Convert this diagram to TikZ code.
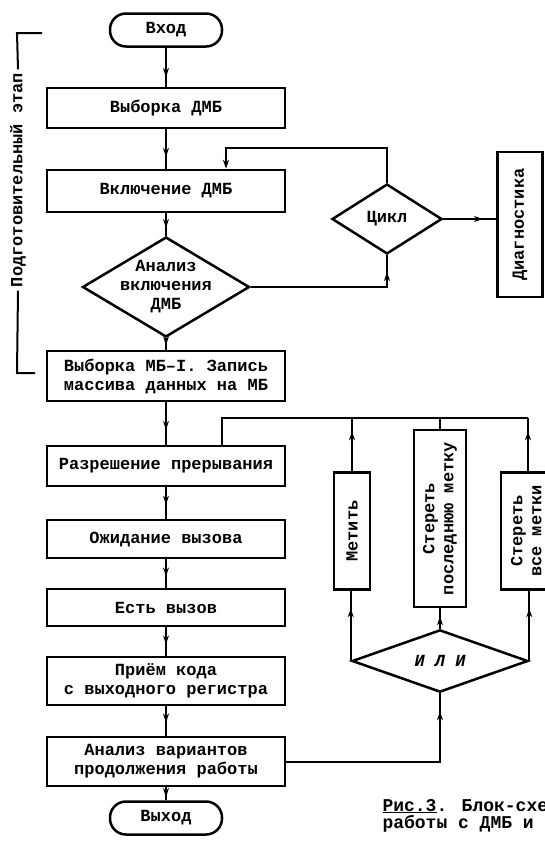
\documentclass[tikz,border=0pt]{standalone}
\usepackage{fontspec}
\setmainfont{Liberation Mono}
\usepackage{graphicx}
\usetikzlibrary{arrows.meta}
\usetikzlibrary{calc}
\usetikzlibrary{decorations.markings}
\usetikzlibrary{shapes.geometric}
\usetikzlibrary{positioning}
\newcommand{\boxfont}{\fontsize{17}{19}\selectfont\bfseries}
\tikzstyle{block} = [draw, line width=2.5pt, rectangle, minimum width=238pt, inner sep=2pt, align=center, font=\boxfont]
\tikzstyle{vblock} = [draw, line width=2.5pt, rectangle, inner sep=0pt, align=center, font=\boxfont]
\tikzstyle{term} = [draw, line width=2.5pt, rectangle, rounded corners=16pt, minimum width=112pt, minimum height=33pt, font=\boxfont]
\tikzstyle{decision} = [draw, line width=2.5pt, diamond, inner sep=0pt, font=\boxfont]
\tikzstyle{line} = [line width=2pt]
\tikzset{flow/.style={line width=2pt,
    decoration={markings, mark=at position #1 with {\arrow{Stealth[length=9pt,width=6pt]}}},
    postaction={decorate}},
  flow/.default=0.6}

\begin{document}
\begin{tikzpicture}[x=1pt, y=-1pt]

    \useasboundingbox (0,0) rectangle (545,849);
    \clip (0,0) rectangle (545,849); % the page is cut at the right edge

    % main column
    \node[term] (start) at (166,30) {Вход};
    \node[block, minimum height=40pt] (selDMB) at (166,108) {Выборка ДМБ};
    \node[block, minimum height=42pt] (onDMB) at (166,191) {Включение ДМБ};
    \node[decision, minimum width=167pt, minimum height=100pt] (chkDMB) at (166,287) {};
    \node[font=\boxfont, align=center] at (chkDMB) {Анализ\\включения\\ДМБ};
    \node[block, minimum height=50pt] (selMB) at (166,376) {Выборка МБ–I. Запись\\массива данных на МБ};
    \node[block, minimum height=40pt] (irqEn) at (166,466) {Разрешение прерывания};
    \node[block, minimum height=38pt] (waitCall) at (166,539) {Ожидание вызова};
    \node[block, minimum height=37pt] (gotCall) at (166,607.5) {Есть вызов};
    \node[block, minimum height=48pt] (getCode) at (166,681) {Приём кода\\с выходного регистра};
    \node[block, minimum height=49pt] (chkVar) at (166,761.5) {Анализ вариантов\\продолжения работы};
    \node[term] (stop) at (166,818) {Выход};

    % loop and diagnostics
    \node[decision, minimum width=110pt, minimum height=70pt] (loopD) at (387,219) {Цикл};
    \node[vblock, minimum width=45pt, minimum height=145pt] (diag) at (520,224.5)
        {\rotatebox{90}{Диагностика}};
    \coordinate (loopTL) at (226,148);

    % user choices
    \node[decision, minimum width=176pt, minimum height=58pt, font=\boxfont\itshape] (orD) at (440,661) {И Л И};
    \node[vblock, minimum width=36pt, minimum height=117pt] (markB) at (352,531)
        {\rotatebox{90}{Метить}};
    \node[vblock, minimum width=52pt, minimum height=177pt] (eraseLast) at (440,518.5)
        {\rotatebox{90}{\begin{tabular}{@{}c@{}}Стереть\\последнюю метку\end{tabular}}};
    \node[vblock, minimum width=54pt, minimum height=117pt] (eraseAll) at (528,531)
        {\rotatebox{90}{\begin{tabular}{@{}c@{}}Стереть\\все метки\end{tabular}}};
    \coordinate (topL) at (222,418);

    % stage bracket
    \node[font=\boxfont, rotate=90] (stage) at (18,180) {Подготовительный этап};
    \draw[line] (42,33) -- (17,33) -- (stage.east);
    \draw[line] (stage.west) -- (17,373) -- (35,373);

    % connectors
    \draw[flow=0.75] (start) -- (selDMB);
    \draw[flow=0.7] (selDMB) -- (onDMB);
    \draw[flow=0.65] (onDMB) -- (chkDMB);
    \draw[flow=0.6] (chkDMB) -- (selMB);
    \draw[flow=0.65] (selMB) -- (irqEn);
    \draw[flow=0.55] (irqEn) -- (waitCall);
    \draw[flow] (waitCall) -- (gotCall);
    \draw[flow] (gotCall) -- (getCode);
    \draw[flow=0.55] (getCode) -- (chkVar);
    \draw[flow=0.75] (chkVar) -- (stop);

    \draw[flow=0.9] (chkDMB.east) -| (loopD.south);
    \draw[line, -{Stealth[length=9pt,width=6pt]}] (loopD.north) |- (loopTL) -- (loopTL |- onDMB.north);
    \draw[flow=0.75] (loopD.east) -- (loopD.east -| diag.west);

    \draw[flow=0.92] (chkVar.east) -| (orD.south);
    \draw[flow=0.75] (orD.west) -- (orD.west |- markB.south);
    \draw[flow=0.6] (orD.north) -- (eraseLast.south);
    \draw[flow=0.75] (orD.east) -- (orD.east |- eraseAll.south);
    \draw[flow=0.75] (markB.north) -- (markB.north |- topL);
    \draw[line] (eraseLast.north) -- (eraseLast.north |- topL);
    \draw[flow=0.75] (eraseAll.north) -- (eraseAll.north |- topL);
    \draw[line] (eraseAll.north |- topL) -- (topL) -- (topL |- irqEn.north);

    % caption
    \node[anchor=base west, align=left, font=\fontsize{18}{17}\selectfont\bfseries] (caption) at (379,828)
        {\underline{Рис.3}. Блок-схема\\работы с ДМБ и МБ};

\end{tikzpicture}
\end{document}
